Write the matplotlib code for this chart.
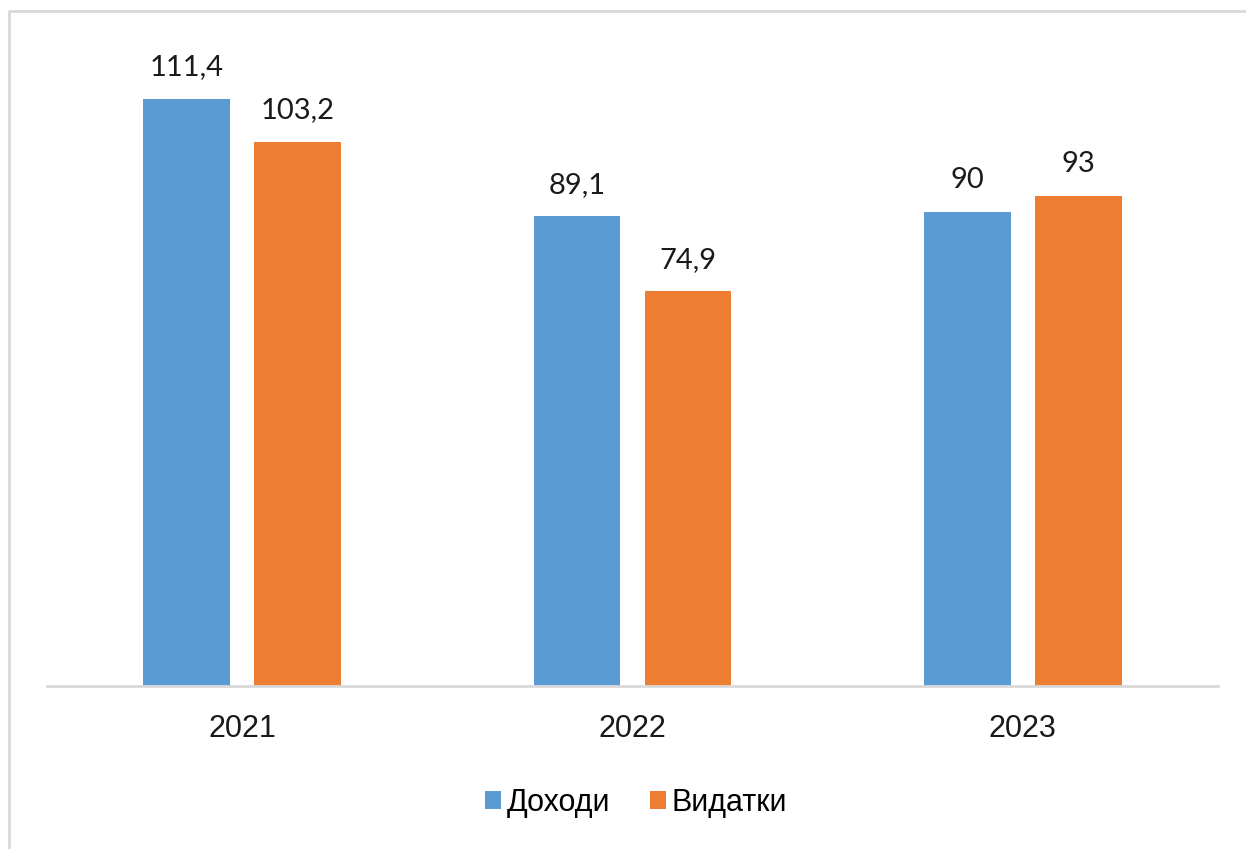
import matplotlib
matplotlib.use("Agg")
import matplotlib.pyplot as plt
import numpy as np
from matplotlib.patches import Patch, Rectangle

years = ["2021", "2022", "2023"]
series_names = ["Доходи", "Видатки"]
income = [111.4, 89.1, 90]
expenses = [103.2, 74.9, 93]
income_labels = ["111,4", "89,1", "90"]
expenses_labels = ["103,2", "74,9", "93"]

BLUE = "#5B9BD5"
ORANGE = "#ED7D31"
GRID = "#D9D9D9"

W, H = 1246, 849
fig = plt.figure(figsize=(W / 100, H / 100), dpi=100)
fig.patch.set_facecolor("white")

# figure border (chart area frame)
fig.add_artist(Rectangle((8.5 / W, -0.05), 1.2, 1 - 11 / H + 0.05,
                         transform=fig.transFigure, fill=False,
                         edgecolor=GRID, linewidth=2.0))

ax_left, ax_right = 47 / W, 1218 / W
ax_bottom = 1 - 686 / H
ymax = 120
top_px = 686 - ymax * 5.27
ax = fig.add_axes([ax_left, ax_bottom, ax_right - ax_left, (686 - top_px) / H])

x = np.arange(len(years))
bw = 0.222
off = 0.142
b1 = ax.bar(x - off, income, bw, color=BLUE, label=series_names[0])
b2 = ax.bar(x + off, expenses, bw, color=ORANGE, label=series_names[1])

ax.set_xlim(-0.5, len(years) - 0.5)
ax.set_ylim(0, ymax)

label_font = "Lato"
for rects, labs in ((b1, income_labels), (b2, expenses_labels)):
    for r, lab in zip(rects, labs):
        ax.annotate(lab, (r.get_x() + r.get_width() / 2, r.get_height()),
                    xytext=(0, 17), textcoords="offset points",
                    ha="center", va="baseline", fontsize=21,
                    family=label_font, color="#1a1a1a")

for s in ["top", "right", "left"]:
    ax.spines[s].set_visible(False)
ax.spines["bottom"].set_color(GRID)
ax.spines["bottom"].set_linewidth(2.0)
ax.set_yticks([])
ax.set_xticks(x)
ax.set_xticklabels(years, fontsize=22, family="Liberation Sans", color="#1a1a1a")
ax.tick_params(axis="x", length=0, pad=20)

handles = [Patch(facecolor=BLUE, edgecolor="none"), Patch(facecolor=ORANGE, edgecolor="none")]
fig.legend(handles, series_names, loc="center", bbox_to_anchor=(636 / W, 1 - 803 / H),
           ncol=2, frameon=False, prop={"family": "Liberation Sans", "size": 22},
           handlelength=0.52, handleheight=0.52, handletextpad=0.2, columnspacing=1.3)

fig.savefig("out.png", dpi=100, facecolor="white")
